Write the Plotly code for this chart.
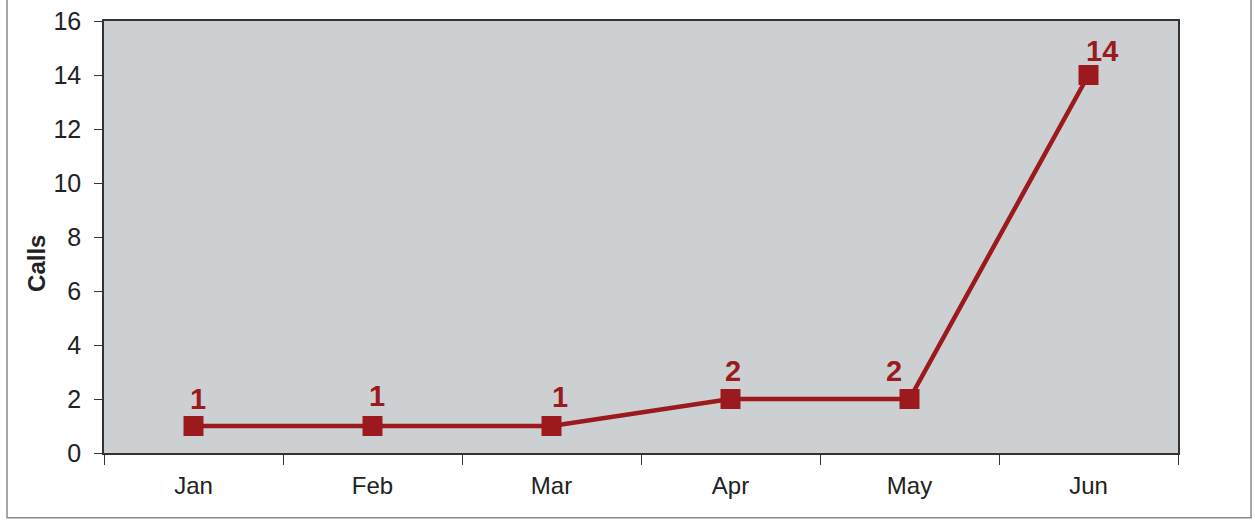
import plotly.graph_objects as go

months = ["Jan", "Feb", "Mar", "Apr", "May", "Jun"]
calls = [1, 1, 1, 2, 2, 14]

# horizontal / vertical nudges (px) for each value label
label_dx = [4, 4, 8, 2, -16, 13]
label_dy = [27, 30, 29, 28, 28, 24]

line_color = "#9c1a1e"
font_family = "Liberation Sans, Arial"

fig = go.Figure()
fig.add_trace(go.Scatter(
    x=months, y=calls, mode="lines+markers",
    line=dict(color=line_color, width=4.5),
    marker=dict(symbol="square", size=20, color=line_color),
    hoverinfo="skip", showlegend=False,
))

for m, v, dx, dy in zip(months, calls, label_dx, label_dy):
    fig.add_annotation(
        x=m, y=v, text=str(v), showarrow=False,
        xshift=dx, yshift=dy,
        font=dict(family=font_family, size=29, color=line_color, weight="bold"),
    )

# y-axis title, sitting a little below the axis midpoint
fig.add_annotation(
    xref="paper", yref="paper", x=-0.0624, y=0.44,
    xanchor="center", yanchor="middle",
    text="<b>Calls</b>", textangle=-90, showarrow=False,
    font=dict(family=font_family, size=24, color="#222"),
)

# outer frame around the chart area
fig.add_shape(type="path", xref="paper", yref="paper",
              path="M -0.0903 1.2 L -0.0903 -0.150 L 1.068 -0.150 L 1.068 1.2",
              line=dict(color="#8a8a8a", width=1.5))

fig.update_layout(
    width=1255, height=520,
    margin=dict(l=104, r=77, t=21, b=67, autoexpand=False),
    paper_bgcolor="white",
    plot_bgcolor="#cdd0d3",
    font=dict(family=font_family, size=24, color="#222"),
)
fig.update_xaxes(
    type="category", range=[-0.5, 5.5], automargin=False,
    tickson="boundaries", ticks="outside", ticklen=10, tickcolor="#333",
    showline=True, linecolor="#333", linewidth=1.5, mirror=True,
    showgrid=False, tickfont=dict(size=24), ticklabelstandoff=10,
)
fig.update_yaxes(
    range=[0, 16], dtick=2, automargin=False,
    ticks="outside", ticklen=8, tickcolor="#333",
    showline=True, linecolor="#333", linewidth=1.5, mirror=True,
    showgrid=False, zeroline=False, tickfont=dict(size=25), ticklabelstandoff=8,
)

fig.write_html("out.html")
